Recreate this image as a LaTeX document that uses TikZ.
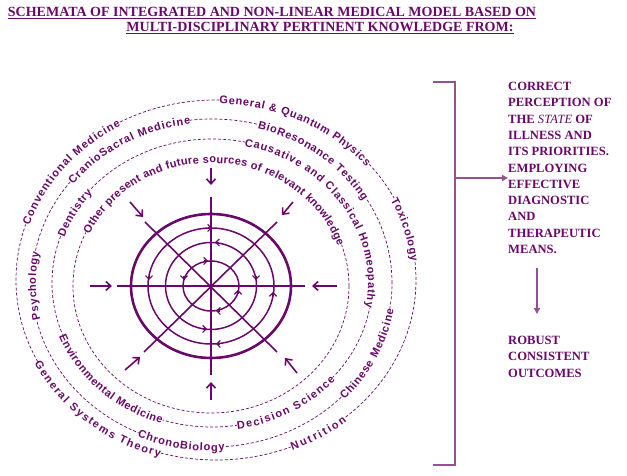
\documentclass[tikz,border=0pt]{standalone}
\usepackage{fontspec}
\setmainfont{Liberation Serif}
\newfontfamily\ringsans{Liberation Sans}
\usetikzlibrary{arrows.meta,decorations.text,positioning}
\definecolor{plum}{RGB}{104,8,104}
\definecolor{lilac}{RGB}{150,80,150}
\tikzset{x=1pt, y=1pt,
ring/.style={plum, line width=0.7pt, dash pattern=on 3pt off 2pt}, % dashed knowledge rings
spoke/.style={plum, line width=1.6pt},
inarrow/.style={plum, line width=1.6pt, -{Straight Barb[length=5pt,width=9pt]}},
tip/.style={plum, line width=1.2pt, -{Straight Barb[length=3.5pt,width=7pt]}},
side/.style={lilac, line width=1.6pt, -{Triangle[length=6pt,width=6pt]}},
blocktext/.style={plum, font=\fontsize{12.6}{16.3}\selectfont\bfseries, align=left, inner sep=0pt},
title/.style={plum, font=\fontsize{14}{16}\selectfont\bfseries},
}
% text on an arc of a ring: rx, ry, start angle, end angle, text
\newcommand\ringtext[5]{%
\draw[white, line width=13pt] (#3:#1 and #2) arc[start angle=#3, end angle=#4, x radius=#1, y radius=#2];
\path[decorate, decoration={text along path, text align=fit to path, raise=-4pt,
  text color=plum, text={|\ringsans\bfseries\fontsize{11}{12}\selectfont|#5}}]
  (#3:#1 and #2) arc[start angle=#3, end angle=#4, x radius=#1, y radius=#2];}
\newcommand\ringtip[3]{\draw[tip] (#1,#2) ++(#3:-4) -- ++(#3:4);}

\begin{document}
\begin{tikzpicture}
\useasboundingbox (0,0) rectangle (627,476);
% title
\node[title] (title1) at (272,463) {\underline{SCHEMATA OF INTEGRATED AND NON-LINEAR MEDICAL MODEL BASED ON}};
\node[title] (title2) at (320,448) {\underline{MULTI-DISCIPLINARY PERTINENT KNOWLEDGE FROM:}};

% outer ring
\begin{scope}[shift={(216,196)}]
\draw[ring] (0,0) ellipse[x radius=200, y radius=180];
\ringtext{200}{180}{89}{40}{General {\&} Quantum Physics}
\ringtext{200}{180}{27}{6}{Toxicology}
\ringtext{200}{180}{-68}{-50}{Nutrition}
\ringtext{200}{180}{-153}{-106}{General Systems Theory}
\ringtext{200}{180}{162}{119}{Conventional Medicine}
\end{scope}
% second ring
\begin{scope}[shift={(212,193)}]
\draw[ring] (0,0) ellipse[x radius=180, y radius=164];
\ringtext{180}{164}{75}{31}{BioResonance Testing}
\ringtext{180}{164}{-44}{-9}{Chinese Medicine}
\ringtext{180}{164}{-114}{-86}{ChronoBiology}
\ringtext{180}{164}{193}{169}{Psychology}
\ringtext{180}{164}{142}{97}{CranioSacral Medicine}
\end{scope}
% third ring
\begin{scope}[shift={(212,193)}]
\draw[ring] (0,0) ellipse[x radius=160, y radius=144];
\ringtext{160}{144}{78}{-10}{Causative and Classical Homeopathy}
\ringtext{160}{144}{-81}{-41}{Decision Science}
\ringtext{160}{144}{-159}{-108}{Environmental Medicine}
\ringtext{160}{144}{161}{140}{Dentistry}
\end{scope}
% inner ring
\begin{scope}[shift={(211,190)}]
\draw[ring] (0,0) ellipse[x radius=138, y radius=127];
\ringtext{138}{127}{155}{19}{Other present and future sources of relevant knowledge}
\end{scope}

% centre
\begin{scope}[shift={(211,190)}]
\draw[plum, line width=2.6pt] (0,0) ellipse[x radius=80, y radius=72];
\foreach \rx/\ry in {63/58, 45.5/43.5, 28/25}
  \draw[plum, line width=1.5pt] (0,0) ellipse[x radius=\rx, y radius=\ry];
\draw[spoke] (-94,0) -- (94,0);
\draw[spoke] (0,-89) -- (0,89);
\draw[spoke] (-66,64) -- (66,-66);
\draw[spoke] (66,64) -- (-67,-66);
\draw[inarrow] (0,118) -- (0,101);
\draw[inarrow] (0,-114) -- (0,-96);
\draw[inarrow] (-121,0) -- (-99,0);
\draw[inarrow] (126,0) -- (101,0);
\draw[inarrow] (-81,84) -- (-68,69);
\draw[inarrow] (82,84) -- (71,71);
\draw[inarrow] (-86,-84) -- (-71,-71);
\draw[inarrow] (86,-87) -- (74,-72);
\ringtip{1}{58}{0}
\ringtip{4}{43.5}{180}
\ringtip{-3}{25}{0}
\ringtip{-62}{6}{-90}
\ringtip{-27}{6}{-90}
\ringtip{45}{6}{-90}
\ringtip{62}{-6}{90}
\ringtip{27}{-4}{90}
\ringtip{5}{-25}{180}
\ringtip{-4}{-43}{0}
\ringtip{5}{-58}{180}
\end{scope}

% bracket and outcomes
\draw[lilac, line width=1.6pt] (433,394) -- (455,394) -- (455,11) -- (433,11);
\coordinate (brace) at (455,298);
\node[blocktext, anchor=north west] (percept) at (508,394)
  {CORRECT\\PERCEPTION OF\\THE \textit{\mdseries STATE} OF\\ILLNESS AND\\ITS PRIORITIES.\\EMPLOYING\\EFFECTIVE\\DIAGNOSTIC\\AND\\THERAPEUTIC\\MEANS.};
\node[blocktext, anchor=north west] (robust) at (508,140) {ROBUST\\CONSISTENT\\OUTCOMES};
\draw[side] (brace) -- (brace -| percept.west);
\draw[side, shorten <=14pt, shorten >=22pt] (percept.south -| 537,0) -- (robust.north -| 537,0);
\end{tikzpicture}
\end{document}
